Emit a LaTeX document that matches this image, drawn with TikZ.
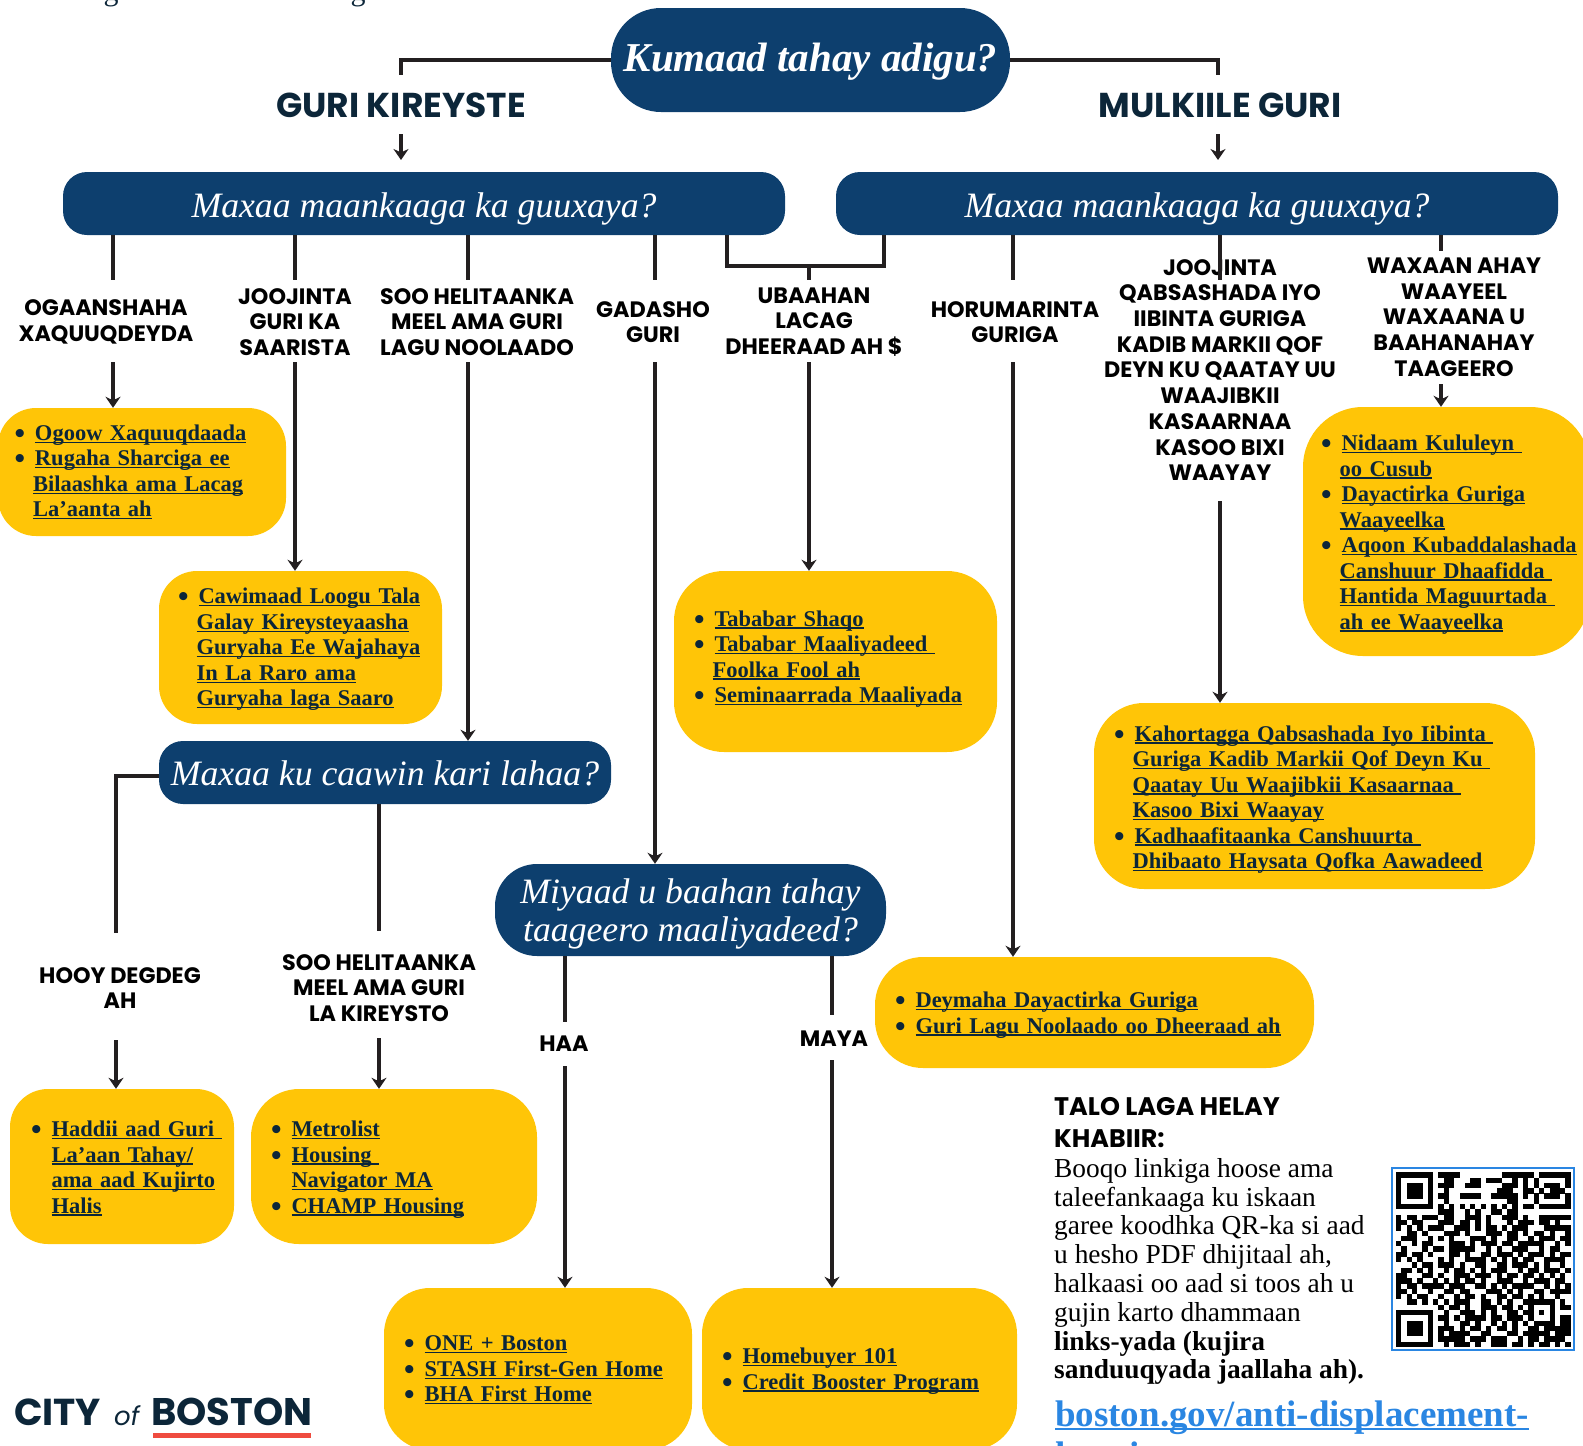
\documentclass[tikz,border=0pt]{standalone}
\usepackage{fontspec}
\setmainfont{Liberation Serif}
\newfontfamily\headfont{Poppins}
\usetikzlibrary{arrows.meta}
\definecolor{pillblue}{HTML}{0D3F6E}
\definecolor{linkgold}{HTML}{FFC507}
\definecolor{inkblue}{HTML}{0C2639}
\definecolor{linegray}{HTML}{231F20}
\definecolor{webblue}{HTML}{2A86E2}
\definecolor{logored}{HTML}{EF4B3F}
\newsavebox\lnkbox
\newcommand{\lnk}[1]{\sbox\lnkbox{#1}\rlap{\raisebox{-.115em}{\rule{\wd\lnkbox}{.06em}}}\usebox\lnkbox}
\newcommand{\bl}[1]{\makebox[20.5pt][l]{\raisebox{-3pt}{\fontsize{30}{30}\selectfont\textbullet}}\lnk{#1}}
\newcommand{\ct}[1]{\hspace*{18.5pt}\lnk{#1}}
\newcommand{\drop}[1]{\rule{0pt}{\dimexpr15.5pt+#1pt\relax}}
\newcount\qrcol
\def\qrscan#1{\ifx#1;\else\if#11\fill[qrcell] (\the\qrcol*5.293+1396,\r*5.293+1172.3) rectangle ++(5.35,5.35);\fi\advance\qrcol by 1 \expandafter\qrscan\fi}
\tikzset{
	navypill/.style n args={3}{fill=pillblue,text=white,minimum width=#1pt,minimum height=#2pt,inner sep=0pt,rounded corners=#3pt,align=center,text depth=0pt,font=\itshape\fontsize{35.7}{38}\selectfont},
	goldbox/.style n args={4}{fill=linkgold,text=inkblue,text width=#1pt-2*#3pt,inner xsep=#3pt,inner ysep=0pt,minimum height=#2pt,rounded corners=#4pt,align=left,font=\bfseries\fontsize{22.5}{25.5}\selectfont},
	pathhead/.style={text=inkblue,inner sep=0pt,font=\headfont\bfseries\fontsize{34.5}{36}\selectfont},
	steplabel/.style={inner sep=0pt,align=center,text=black,font=\headfont\bfseries\fontsize{22.3}{25.7}\selectfont},
	stem/.style={draw=linegray,line width=3.6pt},
	flow/.style={draw=linegray,line width=3.6pt,-{Stealth[inset=3.5pt,length=11pt,width=15pt]}},
	qrcell/.style={fill=black},
}
\begin{document}
\begin{tikzpicture}[x=1pt,y=-1pt]
	\useasboundingbox (0,0) rectangle (1583,1446);
	\clip (0,0) rectangle (1583,1446);
	\node[anchor=base,text=inkblue,font=\fontsize{30}{30}\selectfont] (titleg) at (111,0) {g};
	\node[anchor=base,text=inkblue,font=\fontsize{30}{30}\selectfont] (titlegg) at (358,0) {g};

	\node[navypill={399}{104}{50},text depth=6pt,font=\bfseries\itshape\fontsize{41}{43}\selectfont] (askpill) at (810.5,60) {Kumaad tahay adigu?};
	\node[pathhead] (renthead) at (401,105) {GURI KIREYSTE};
	\node[pathhead] (ownhead) at (1220,105) {MULKIILE GURI};
	\node[navypill={722}{63}{24},text height=28pt] (rentpill) at (424,203.5) {Maxaa maankaaga ka guuxaya?};
	\node[navypill={722}{63}{24},text height=28pt] (ownpill) at (1197,203.5) {Maxaa maankaaga ka guuxaya?};
	\node[navypill={452}{63}{24},text height=26pt] (helppill) at (385,772.5) {Maxaa ku caawin kari lahaa?};
	\node[navypill={391}{92}{42}] (supportpill) at (690.5,910) {Miyaad u baahan tahay\\taageero maaliyadeed?};

	\node[steplabel] (ogaanlabel) at (106,322) {OGAANSHAHA\\XAQUUQDEYDA};
	\node[steplabel] (joojlabel) at (295,322) {JOOJINTA\\GURI KA\\SAARISTA};
	\node[steplabel] (soolabel) at (477,322) {SOO HELITAANKA\\MEEL AMA GURI\\LAGU NOOLAADO};
	\node[steplabel] (gadlabel) at (653,322) {GADASHO\\GURI};
	\node[steplabel] (ubaalabel) at (814,322) {UBAAHAN\\LACAG\\DHEERAAD AH \$};
	\node[steplabel] (horlabel) at (1015,322) {HORUMARINTA\\GURIGA};
	\node[steplabel] (qablabel) at (1220,370) {JOOJINTA\\QABSASHADA IYO\\IIBINTA GURIGA\\KADIB MARKII QOF\\DEYN KU QAATAY UU\\WAAJIBKII\\KASAARNAA\\KASOO BIXI\\WAAYAY};
	\node[steplabel] (waxlabel) at (1454,317) {WAXAAN AHAY\\WAAYEEL\\WAXAANA U\\BAAHANAHAY\\TAAGEERO};
	\node[steplabel] (hooylabel) at (120,988) {HOOY DEGDEG\\AH};
	\node[steplabel] (kirelabel) at (379,988) {SOO HELITAANKA\\MEEL AMA GURI\\LA KIREYSTO};
	\node[steplabel] (haalabel) at (564,1044) {HAA};
	\node[steplabel] (mayalabel) at (834,1039) {MAYA};

	\node[goldbox={288}{128}{16.5}{38}] (ogoowbox) at (142,472) {\bl{Ogoow Xaquuqdaada}\\\bl{Rugaha Sharciga ee}\\\ct{Bilaashka ama Lacag}\\\ct{La’aanta ah}};
	\node[goldbox={283}{153}{19}{38}] (cawibox) at (300.5,647.5) {\drop{4}\bl{Cawimaad Loogu Tala}\\\ct{Galay Kireysteyaasha}\\\ct{Guryaha Ee Wajahaya}\\\ct{In La Raro ama}\\\ct{Guryaha laga Saaro}};
	\node[goldbox={323}{181}{20}{50}] (tababox) at (835.5,661.5) {\bl{Tababar Shaqo}\\\bl{Tababar Maaliyadeed }\\\ct{Foolka Fool ah}\\\bl{Seminaarrada Maaliyada}\par\vspace{5pt}};
	\node[goldbox={287}{249}{18}{60}] (nidaambox) at (1446.5,531.5) {\drop{6}\bl{Nidaam Kululeyn }\\\ct{oo Cusub}\\\bl{Dayactirka Guriga}\\\ct{Waayeelka}\\\bl{Aqoon Kubaddalashada}\\\ct{Canshuur Dhaafidda }\\\ct{Hantida Maguurtada }\\\ct{ah ee Waayeelka}};
	\node[goldbox={441}{186}{20}{50}] (kahobox) at (1314.5,796) {\drop{7}\bl{Kahortagga Qabsashada Iyo Iibinta }\\\ct{Guriga Kadib Markii Qof Deyn Ku }\\\ct{Qaatay Uu Waajibkii Kasaarnaa }\\\ct{Kasoo Bixi Waayay}\\\bl{Kadhaafitaanka Canshuurta }\\\ct{Dhibaato Haysata Qofka Aawadeed}};
	\node[goldbox={439}{111}{20}{48}] (deybox) at (1094.5,1012.5) {\drop{5}\bl{Deymaha Dayactirka Guriga}\\\bl{Guri Lagu Noolaado oo Dheeraad ah}};
	\node[goldbox={224}{155}{21}{38}] (haddibox) at (122,1166.5) {\drop{4}\bl{Haddii aad Guri }\\\hspace*{20.5pt}\lnk{La’aan Tahay/}\\\hspace*{20.5pt}\lnk{ama aad Kujirto}\\\hspace*{20.5pt}\lnk{Halis}};
	\node[goldbox={286}{155}{20}{48}] (metrobox) at (394,1166.5) {\drop{6}\bl{Metrolist}\\\bl{Housing }\\\hspace*{20.5pt}\lnk{Navigator MA}\\\bl{CHAMP Housing}};
	\node[goldbox={308}{162}{20}{46}] (onebox) at (538,1369) {\drop{2}\bl{ONE + Boston}\\\bl{STASH First-Gen Home}\\\bl{BHA First Home}};
	\node[goldbox={315}{162}{20}{46}] (homebox) at (859.5,1369) {\drop{4}\bl{Homebuyer 101}\\\bl{Credit Booster Program}};

	\foreach \nm/\x in {ogaan/113,jooj/295,soo/468,gad/655,ubaa/809,hor/1013,qab/1220}{
		\coordinate (\nm top) at (\x,280);
		\coordinate (\nm bot) at (\x,362);
	}
	\coordinate (qabbot) at (1220,501);
	\coordinate (waxtop) at (1441,251);
	\coordinate (waxbot) at (1441,384);
	\coordinate (rentdrop) at (401,75);
	\coordinate (ownjoin) at (1218,75);
	\coordinate (rentarrow) at (401,134);
	\coordinate (rentarrowend) at (401,160);
	\coordinate (ownarrow) at (1218,134);
	\coordinate (ownarrowend) at (1218,160);
	\coordinate (elbowa) at (727,266);
	\coordinate (elbowb) at (884,266);

	\draw[stem] (askpill.west) -| (rentdrop);
	\draw[stem] (askpill.east) -| (ownjoin);
	\draw[flow] (rentarrow) -- (rentarrowend);
	\draw[flow] (ownarrow) -- (ownarrowend);
	\foreach \nm in {ogaan,jooj,soo,gad}
		\draw[stem] (rentpill.south -| \nm top) -- (\nm top);
	\foreach \nm in {hor,qab,wax}
		\draw[stem] (ownpill.south -| \nm top) -- (\nm top);
	\draw[stem] (rentpill.south -| elbowa) -- (elbowa) -- (elbowb) -- (ownpill.south -| elbowb);
	\draw[stem] (elbowa -| ubaatop) -- (ubaatop);
	\draw[flow] (ogaanbot) -- (ogaanbot |- ogoowbox.north);
	\draw[flow] (joojbot) -- (joojbot |- cawibox.north);
	\draw[flow] (soobot) -- (soobot |- helppill.north);
	\draw[flow] (gadbot) -- (gadbot |- supportpill.north);
	\draw[flow] (ubaabot) -- (ubaabot |- tababox.north);
	\draw[flow] (horbot) -- (horbot |- deybox.north);
	\draw[flow] (qabbot) -- (qabbot |- kahobox.north);
	\draw[flow] (waxbot) -- (waxbot |- nidaambox.north);

	\coordinate (helpcorner) at (116,776);
	\coordinate (hooytop) at (116,933);
	\coordinate (hooybot) at (116,1040);
	\coordinate (kiretop) at (379,931);
	\coordinate (kirebot) at (379,1038);
	\coordinate (haatop) at (565,1022);
	\coordinate (haabot) at (565,1066);
	\coordinate (mayatop) at (832,1015);
	\coordinate (mayabot) at (832,1060);
	\draw[stem] (helppill.west |- helpcorner) -- (helpcorner) -- (hooytop);
	\draw[flow] (hooybot) -- (hooybot |- haddibox.north);
	\draw[stem] (helppill.south -| kiretop) -- (kiretop);
	\draw[flow] (kirebot) -- (kirebot |- metrobox.north);
	\draw[stem] (supportpill.south -| haatop) -- (haatop);
	\draw[flow] (haabot) -- (haabot |- onebox.north);
	\draw[stem] (supportpill.south -| mayatop) -- (mayatop);
	\draw[flow] (mayabot) -- (mayabot |- homebox.north);

	\node[anchor=north west,inner sep=0pt,align=left,font=\headfont\bfseries\fontsize{25.4}{32}\selectfont] (talohead) at (1054,1097) {TALO LAGA HELAY\\KHABIIR:};
	\node[anchor=north west,inner sep=0pt,align=left,font=\fontsize{27.4}{28.8}\selectfont] (bodytext) at (1054,1158) {Booqo linkiga hoose ama\\taleefankaaga ku iskaan\\garee koodhka QR-ka si aad\\u hesho PDF dhijitaal ah,\\halkaasi oo aad si toos ah u\\gujin karto dhammaan\\\textbf{links-yada (kujira}\\\textbf{sanduuqyada jaallaha ah).}};
	\node[anchor=base west,inner sep=0pt,align=left,text=webblue,font=\bfseries\fontsize{37}{41}\selectfont] (weblink) at (1055,1467) {\lnk{boston.gov/anti-displacement-}\\\lnk{housing}};

	\node[draw=webblue,line width=1.8pt,fill=white,minimum size=182pt,inner sep=0pt] (qrframe) at (1483,1259) {};
	\foreach \qrrow [count=\r from 0] in {
		111111101111000000001111110111111,
		100000100110001101110010101000001,
		101110101110011100001110101011101,
		101110100100000000011100110101110,
		101110101100111100111110101011101,
		100000100100000000000110001000001,
		111111101010101010101010110111111,
		000000001110010100110110000000000,
		101101110110011101001110100111111,
		110110001110110101000101110110100,
		101010111001110101101011100011111,
		001101000111010001110110101101001,
		011100101010001110100110010111011,
		100101100011101011101101111100101,
		010001011011111001010011100101100,
		110110100011010011011101011101011,
		101010001010011110101010110011110,
		000101101110100110011011101010010,
		011010100101101010111001011011101,
		110001101001110111010110110101010,
		111010010101011010011100101110110,
		101101111011100110101011110010101,
		110100100110110001110101001101111,
		101011001001011010011011010100100,
		001101010101110011010100111111010,
		000000001011010011101101010001011,
		111111100100111010100110110101000,
		100000101101011110110111010001011,
		101110100100110100101010101111011,
		101110101110101101011010011011111,
		101110101011110011000110111110111,
		100000101111101110111001011011110,
		111111100101110100111011010110101}
	{\qrcol=0 \expandafter\qrscan\qrrow;}

	\node[anchor=base west,inner sep=0pt,text=inkblue,font=\headfont\bfseries\fontsize{37.5}{39}\selectfont] (cityword) at (14,1425) {CITY};
	\node[anchor=base west,inner sep=0pt,text=inkblue,font=\headfont\itshape\fontsize{26}{32}\selectfont] (ofword) at (114,1425) {of};
	\node[anchor=base west,inner sep=0pt,text=inkblue,font=\headfont\bfseries\fontsize{38.5}{39}\selectfont] (bostonword) at (151,1425) {BOSTON};
	\fill[logored] (153,1433) rectangle (311,1438);
\end{tikzpicture}
\end{document}
